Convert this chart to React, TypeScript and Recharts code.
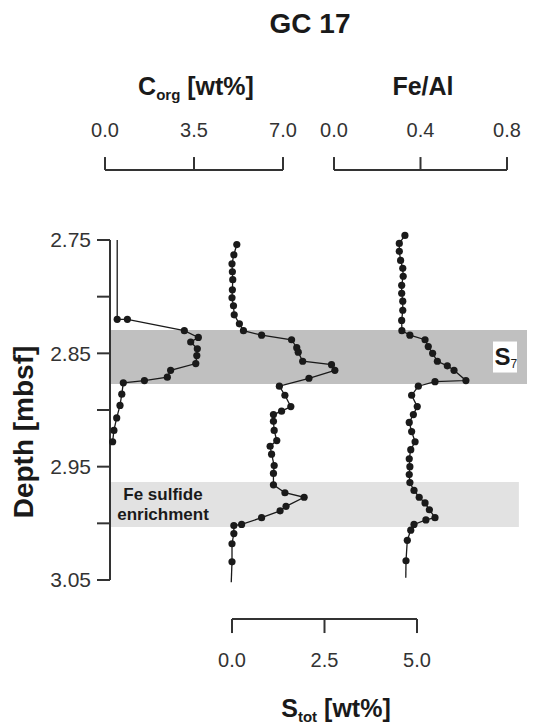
import React from "react";
import { ScatterChart, Scatter, XAxis, YAxis, ReferenceArea, ReferenceLine } from "recharts";

const FONT = '"Liberation Sans", Arial, Helvetica, sans-serif';
const INK = "#1a1a1a";
const AXIS = "#333";

// C_org [wt%] vs depth [mbsf]
const corgDepth = [2.82, 2.82, 2.83, 2.836, 2.84, 2.846, 2.852, 2.859, 2.865, 2.871, 2.874, 2.876, 2.886, 2.896, 2.907, 2.918, 2.928];
const corgValue = [0.48, 0.88, 3.12, 3.67, 3.37, 3.63, 3.61, 3.57, 2.58, 2.45, 1.55, 0.72, 0.66, 0.59, 0.46, 0.35, 0.3];

// S_tot [wt%]
const sDepth = [
  2.754, 2.763, 2.771, 2.778, 2.785, 2.794, 2.801, 2.808, 2.816, 2.824,
  2.83, 2.834, 2.838, 2.845, 2.849, 2.857, 2.86, 2.865, 2.872, 2.879,
  2.887, 2.897, 2.901, 2.904, 2.91, 2.918, 2.927, 2.932, 2.939, 2.949,
  2.956, 2.966, 2.973, 2.977, 2.985, 2.989, 2.995, 3.001, 3.002, 3.009,
  3.018, 3.034,
];
const sValue = [
  0.13, 0.05, 0.0, 0.01, 0.02, 0.01, 0.0, 0.04, 0.06, 0.2,
  0.31, 0.8, 1.61, 1.75, 1.79, 1.91, 2.69, 2.78, 2.08, 1.28,
  1.43, 1.59, 1.34, 1.12, 1.12, 1.14, 1.21, 1.03, 1.07, 1.14,
  1.12, 1.12, 1.43, 1.95, 1.46, 1.3, 0.8, 0.26, 0.05, 0.05,
  0.0, 0.0,
];

// Fe/Al
const feDepth = [
  2.746, 2.753, 2.76, 2.768, 2.775, 2.782, 2.79, 2.797, 2.804, 2.812,
  2.821, 2.83, 2.834, 2.838, 2.844, 2.85, 2.857, 2.861, 2.865, 2.874,
  2.875, 2.879, 2.887, 2.897, 2.904, 2.911, 2.919, 2.928, 2.935, 2.943,
  2.95, 2.957, 2.964, 2.971, 2.977, 2.982, 2.988, 2.995, 2.997, 3.001,
  3.006, 3.015, 3.033,
];
const feValue = [
  0.328, 0.302, 0.302, 0.308, 0.318, 0.32, 0.313, 0.313, 0.318, 0.318,
  0.313, 0.314, 0.351, 0.421, 0.436, 0.456, 0.478, 0.524, 0.555, 0.61,
  0.467, 0.39, 0.359, 0.385, 0.367, 0.348, 0.359, 0.375, 0.355, 0.348,
  0.351, 0.348, 0.351, 0.37, 0.394, 0.421, 0.441, 0.467, 0.425, 0.37,
  0.355, 0.339, 0.333,
];

// line-only ends of the profiles (no sample dots)
const corgTopDepth = [2.75, 2.82];
const corgTopValue = [0.48, 0.48];
const sTailDepth = [3.034, 3.052];
const sTailValue = [0.0, -0.02];
const feTailDepth = [3.033, 3.048];
const feTailValue = [0.333, 0.332];

const depthTicks = [2.75, 2.8, 2.85, 2.9, 2.95, 3.0, 3.05];
const corgTicks = [0, 3.5, 7];
const feTicks = [0, 0.4, 0.8];
const sTicks = [0, 2.5, 5];

// sapropel S7 and Fe sulfide enrichment intervals
const s7Band = [2.8294, 2.8771];
const feSulfideBand = [2.9636, 3.0033];
const feSulfideBandEnd = 0.855;

const pairs = (d: number[], v: number[]) => d.map((depth, i) => ({ d: depth, v: v[i] }));

const corgData = pairs(corgDepth, corgValue);
const sData = pairs(sDepth, sValue);
const feData = pairs(feDepth, feValue);

// x domains: each profile gets its own scale across the shared plot width
const CORG_DOMAIN = [0.1966, 16.595];
const FE_DOMAIN = [-1.0358, 0.8925];
const S_DOMAIN = [-3.2973, 7.973];

// depths at which the scale bars sit, outside the plotted interval
const TOP_AXIS = 2.6882;
const TOP_TICK = 2.6768;
const BOTTOM_AXIS = 3.0844;
const BOTTOM_TICK = 3.0968;

const Dot = (p: any) => <circle cx={p.cx} cy={p.cy} r={3.6} fill={INK} />;
const NoDot = () => <g />;

const tickLabel = { fill: "#333", fontSize: 20, fontFamily: FONT };

function S7Label(props: any) {
  const { x, y, width, height } = props.viewBox;
  const bx = x + width - 34;
  const by = y + height / 2 - 15.5;
  return (
    <g>
      <rect x={bx} y={by} width={24} height={31} fill="#fff" />
      <text x={bx + 1.5} y={by + 23} fontFamily={FONT} fontWeight="bold" fontSize={24} fill={INK}>
        S
        <tspan fontSize={12} fontWeight="normal" dy={3}>7</tspan>
      </text>
    </g>
  );
}

function FeSulfideLabel(props: any) {
  const { x, y } = props.viewBox;
  return (
    <text fontFamily={FONT} fontWeight="bold" fontSize={17} fill={INK} textAnchor="middle">
      <tspan x={x + 53} y={y + 18}>Fe sulfide</tspan>
      <tspan x={x + 53} y={y + 38}>enrichment</tspan>
    </text>
  );
}

function scaleBar(id: string, ticks: number[], axisDepth: number, tickDepth: number, pos: "top" | "bottom") {
  return [
    <ReferenceLine
      key={id + "-line"}
      xAxisId={id}
      segment={[{ x: ticks[0], y: axisDepth }, { x: ticks[ticks.length - 1], y: axisDepth }]}
      stroke={AXIS}
      strokeWidth={2}
      ifOverflow="visible"
    />,
    ...ticks.map((t) => (
      <ReferenceLine
        key={id + "-" + t}
        xAxisId={id}
        segment={[{ x: t, y: tickDepth }, { x: t, y: axisDepth }]}
        stroke={AXIS}
        strokeWidth={2}
        ifOverflow="visible"
        label={{ value: t.toFixed(1), position: pos, offset: 20, ...tickLabel }}
      />
    )),
  ];
}

export default function App() {
  return (
    <div style={{ position: "absolute", left: 0, top: 0, width: 545, height: 724, background: "#fff" }}>
      <ScatterChart width={545} height={724} margin={{ top: 228.67, right: 18, bottom: 132.67, left: 0 }}>
        <XAxis xAxisId="corg" type="number" dataKey="v" domain={CORG_DOMAIN} hide />
        <XAxis xAxisId="fe" type="number" dataKey="v" domain={FE_DOMAIN} hide />
        <XAxis xAxisId="s" type="number" dataKey="v" domain={S_DOMAIN} hide />
        <YAxis
          type="number"
          dataKey="d"
          domain={[2.74, 3.06]}
          reversed
          width={110}
          ticks={depthTicks}
          interval={0}
          tickFormatter={(v: number) => (Math.round(v * 100) % 10 === 5 ? v.toFixed(2) : "")}
          axisLine={false}
          tickSize={13}
          tickLine={{ stroke: AXIS, strokeWidth: 2 }}
          tickMargin={6}
          tick={{ ...tickLabel, fontSize: 21 }}
        />

        <ReferenceArea xAxisId="fe" y1={s7Band[0]} y2={s7Band[1]} fill="#c0c0c0" fillOpacity={1} stroke="none" label={<S7Label />} />
        <ReferenceArea
          xAxisId="fe"
          x2={feSulfideBandEnd}
          y1={feSulfideBand[0]}
          y2={feSulfideBand[1]}
          fill="#e2e2e2"
          fillOpacity={1}
          stroke="none"
          label={<FeSulfideLabel />}
        />

        {/* depth axis line along the left edge of the plot */}
        <ReferenceLine
          xAxisId="corg"
          segment={[{ x: CORG_DOMAIN[0], y: 2.75 }, { x: CORG_DOMAIN[0], y: 3.05 }]}
          stroke={AXIS}
          strokeWidth={2}
          ifOverflow="visible"
        />

        {scaleBar("corg", corgTicks, TOP_AXIS, TOP_TICK, "top")}
        {scaleBar("fe", feTicks, TOP_AXIS, TOP_TICK, "top")}
        {scaleBar("s", sTicks, BOTTOM_AXIS, BOTTOM_TICK, "bottom")}

        <Scatter xAxisId="corg" data={pairs(corgTopDepth, corgTopValue)} line={{ stroke: INK, strokeWidth: 1.3 }} shape={NoDot} isAnimationActive={false} />
        <Scatter xAxisId="corg" data={corgData} line={{ stroke: INK, strokeWidth: 1.3 }} shape={Dot} isAnimationActive={false} />
        <Scatter xAxisId="s" data={sData} line={{ stroke: INK, strokeWidth: 1.3 }} shape={Dot} isAnimationActive={false} />
        <Scatter xAxisId="s" data={pairs(sTailDepth, sTailValue)} line={{ stroke: INK, strokeWidth: 1.3 }} shape={NoDot} isAnimationActive={false} />
        <Scatter xAxisId="fe" data={feData} line={{ stroke: INK, strokeWidth: 1.3 }} shape={Dot} isAnimationActive={false} />
        <Scatter xAxisId="fe" data={pairs(feTailDepth, feTailValue)} line={{ stroke: INK, strokeWidth: 1.3 }} shape={NoDot} isAnimationActive={false} />
      </ScatterChart>

      <svg width={545} height={724} style={{ position: "absolute", left: 0, top: 0, pointerEvents: "none" }} fontFamily={FONT} fontWeight="bold" fill={INK}>
        <text x={310} y={33} fontSize={28} textAnchor="middle">GC 17</text>
        <text x={196} y={95} fontSize={25} textAnchor="middle">
          C<tspan fontSize={15} dy={5}>org</tspan>
          <tspan dy={-5}> [wt%]</tspan>
        </text>
        <text x={423} y={95} fontSize={25} textAnchor="middle">Fe/Al</text>
        <text x={336} y={717} fontSize={25} textAnchor="middle">
          S<tspan fontSize={15} dy={5}>tot</tspan>
          <tspan dy={-5}> [wt%]</tspan>
        </text>
        <text transform="translate(33 432) rotate(-90)" fontSize={28} textAnchor="middle">Depth [mbsf]</text>
      </svg>
    </div>
  );
}
